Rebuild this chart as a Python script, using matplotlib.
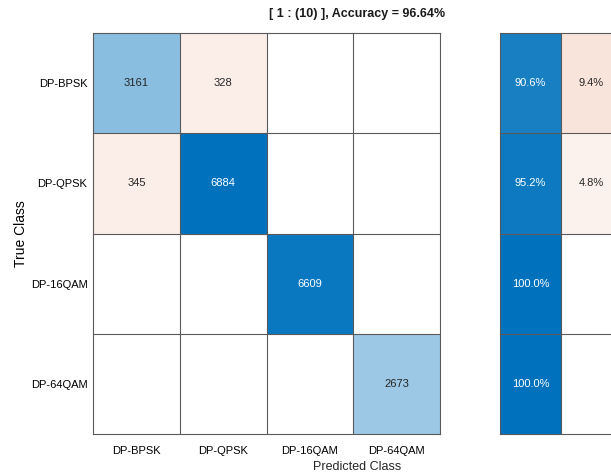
import numpy as np
import matplotlib
matplotlib.use("Agg")
import matplotlib.pyplot as plt
from matplotlib.colors import LinearSegmentedColormap, Normalize

plt.rcParams["font.family"] = ["Liberation Sans", "DejaVu Sans"]

CLASSES = ["DP-BPSK", "DP-QPSK", "DP-16QAM", "DP-64QAM"]
COUNTS = np.array([
    [3161, 328, 0, 0],
    [345, 6884, 0, 0],
    [0, 0, 6609, 0],
    [0, 0, 0, 2673],
])
TITLE = "[ 1 : (10) ], Accuracy = 96.64%"

BLUE = (0.0, 0.447, 0.741)
RED = (0.85, 0.325, 0.098)
GRID = "#5a5a5a"

blue_map = LinearSegmentedColormap.from_list("diag", ["white", BLUE])
red_map = LinearSegmentedColormap.from_list("offdiag", ["white", RED])


def text_color(frac):
    return "white" if frac > 0.6 else "#262626"


def draw_cells(ax, values, diag_mask, diag_norm, off_norm, labels):
    n_rows, n_cols = values.shape
    diag = np.ma.masked_where(~diag_mask | (values == 0), values)
    off = np.ma.masked_where(diag_mask | (values == 0), values)
    ax.pcolormesh(np.arange(n_cols + 1), np.arange(n_rows + 1), diag,
                  cmap=blue_map, norm=diag_norm)
    ax.pcolormesh(np.arange(n_cols + 1), np.arange(n_rows + 1), off,
                  cmap=red_map, norm=off_norm)
    for k in range(1, n_cols):
        ax.axvline(k, color=GRID, lw=0.8)
    for k in range(1, n_rows):
        ax.axhline(k, color=GRID, lw=0.8)
    for i in range(n_rows):
        for j in range(n_cols):
            if values[i, j] == 0:
                continue
            norm = diag_norm if diag_mask[i, j] else off_norm
            ax.text(j + 0.5, i + 0.5, labels[i][j], ha="center", va="center",
                    fontsize=8, color=text_color(norm(values[i, j])))
    ax.set_xlim(0, n_cols)
    ax.set_ylim(n_rows, 0)
    for s in ax.spines.values():
        s.set_color(GRID)
        s.set_linewidth(0.8)
    ax.tick_params(length=0)


fig = plt.figure(figsize=(6.11, 4.72), dpi=100)
W, H = 611, 472

# main confusion matrix
ax = fig.add_axes([93 / W, (H - 434) / H, 347 / W, 401 / H])
n = len(CLASSES)
vmax = COUNTS.max()
draw_cells(ax, COUNTS, np.eye(n, dtype=bool),
           Normalize(0, vmax), Normalize(0, vmax * 0.46),
           [[str(v) for v in row] for row in COUNTS])
ax.set_xticks(np.arange(n) + 0.5)
ax.set_xticklabels(CLASSES, fontsize=8)
ax.set_yticks(np.arange(n) + 0.5)
ax.set_yticklabels(CLASSES, fontsize=8)
ax.tick_params(axis="x", pad=9)
ax.tick_params(axis="y", pad=4)
ax.set_ylabel("True Class", fontsize=10, labelpad=2)

# row summary (correct / incorrect share per true class)
totals = COUNTS.sum(axis=1)
correct = np.diag(COUNTS) / totals * 100
incorrect = 100 - correct
summary = np.column_stack([correct, incorrect])
summary_mask = np.zeros_like(summary, dtype=bool)
summary_mask[:, 0] = True
summary_labels = [[f"{v:.1f}%" for v in row] for row in summary]
ax2 = fig.add_axes([500 / W, (H - 434) / H, 122 / W, 401 / H])
summary_vals = np.round(summary, 1)
draw_cells(ax2, summary_vals, summary_mask,
           Normalize(0, 100), Normalize(0, 60), summary_labels)
ax2.set_xticks([])
ax2.set_yticks([])

fig.text(357 / W, 1 - 14 / H, TITLE, ha="center", va="center",
         fontsize=9, fontweight="bold", color="#1a1a1a")
fig.text(357 / W, 1 - 467 / H, "Predicted Class", ha="center", va="center",
         fontsize=9, color="#262626")

fig.savefig("out.png", dpi=100)
